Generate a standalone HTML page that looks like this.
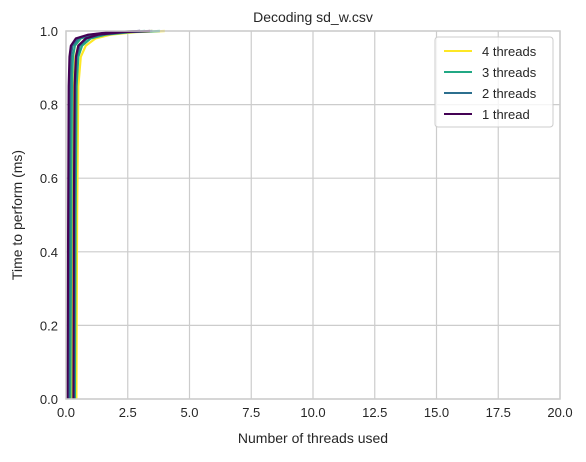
<!DOCTYPE html>
<html><head><meta charset="utf-8"><style>
body{margin:0;background:#fff;font-family:"Liberation Sans","DejaVu Sans",sans-serif;}
svg text{font-family:"Liberation Sans","DejaVu Sans",sans-serif;fill:#262626;}
</style></head><body>
<svg id="chart" width="586" height="457" xmlns="http://www.w3.org/2000/svg">
<rect width="586" height="457" fill="#fff"/>
<g id="grid"></g>
<g id="lines"></g>
<rect x="66" y="31" width="494" height="368" fill="none" stroke="#cccccc" stroke-width="1.5"/>
<g id="ticks"></g>
<text x="313" y="22" text-anchor="middle" font-size="14">Decoding sd_w.csv</text>
<text x="313" y="443" text-anchor="middle" font-size="14">Number of threads used</text>
<text x="22" y="215" text-anchor="middle" font-size="14" transform="rotate(-90 22 215)">Time to perform (ms)</text>
<g>
<rect x="435" y="37" width="118" height="90" rx="3" fill="#fff" fill-opacity="0.8" stroke="#cccccc"/>
<g id="legend"></g>
</g>
</svg>
<script>
const quantiles=[0,0.5,0.85,0.93,0.96,0.98,0.99,0.997,1.0,1.0];
const seriesNames=["4 threads","3 threads","2 threads","1 thread"];
const seriesColors=["#fde725","#21a884","#2c6f8e","#440154"];
// each series: two runs, x values (ms) at the quantiles above
const run4a=[0.25,0.28,0.32,0.38,0.5,0.8,1.3,2.2,3.5,12];
const run4b=[0.42,0.45,0.5,0.6,0.8,1.2,1.8,2.8,4.0,12];
const run3a=[0.18,0.21,0.24,0.28,0.36,0.6,1.1,2.0,3.2,12];
const run3b=[0.36,0.39,0.43,0.5,0.65,1.0,1.6,2.6,3.8,12];
const run2a=[0.12,0.14,0.17,0.2,0.26,0.5,1.0,1.9,3.0,12];
const run2b=[0.32,0.35,0.38,0.43,0.55,0.85,1.4,2.4,3.5,12];
const run1a=[0.06,0.09,0.11,0.14,0.2,0.4,0.9,1.8,3.0,12];
const run1b=[0.3,0.32,0.35,0.4,0.5,0.8,1.3,2.3,3.4,12];
const runs=[[run4a,run4b],[run3a,run3b],[run2a,run2b],[run1a,run1b]];
const xTicks=[0,2.5,5,7.5,10,12.5,15,17.5,20];
const xTickLabels=["0.0","2.5","5.0","7.5","10.0","12.5","15.0","17.5","20.0"];
const yTicks=[0,0.2,0.4,0.6,0.8,1.0];
const yTickLabels=["0.0","0.2","0.4","0.6","0.8","1.0"];
const X=v=>66+v/20*494, Y=v=>399-v*368;
const NS="http://www.w3.org/2000/svg";
const grid=document.getElementById('grid'),ticks=document.getElementById('ticks'),lines=document.getElementById('lines'),leg=document.getElementById('legend');
function mk(t,a,p){const e=document.createElementNS(NS,t);for(const k in a)e.setAttribute(k,a[k]);p.appendChild(e);return e;}
xTicks.forEach((v,i)=>{
 const l=mk('line',{x1:X(v),x2:X(v),y1:31,y2:399,stroke:'#cccccc','stroke-width':1.2},grid);
 
 
 const t=mk('text',{x:X(v),y:417,'text-anchor':'middle','font-size':13},ticks);t.textContent=xTickLabels[i];
 
 
});
yTicks.forEach((v,i)=>{
 const l=mk('line',{x1:66,x2:560,y1:Y(v),y2:Y(v),stroke:'#cccccc','stroke-width':1.2},grid);
 
 
 const t=mk('text',{x:58,y:Y(v)+5,'text-anchor':'end','font-size':13},ticks);t.textContent=yTickLabels[i];
 
 
});
runs.forEach((rs,si)=>{rs.forEach(r=>{
 const n=r.length;
 const d=r.slice(0,n-1).map((x,i)=>(i?'L':'M')+X(x).toFixed(1)+','+Y(quantiles[i]).toFixed(1)).join(' ');
 const p=mk('path',{d:d,fill:'none',stroke:seriesColors[si],'stroke-width':2.2,'stroke-linejoin':'round'},lines);
 
 
 const tail=mk('line',{x1:X(r[n-2]),x2:X(r[n-1]),y1:Y(quantiles[n-2]),y2:Y(quantiles[n-1]),stroke:seriesColors[si],'stroke-width':1,'stroke-opacity':0.35},lines);
 
 
});});
seriesNames.forEach((n,i)=>{
 const y=51+i*21;
 const l=mk('line',{x1:444,x2:472,y1:y,y2:y,stroke:seriesColors[i],'stroke-width':2},leg);
 
 
 const t=mk('text',{x:482,y:y+5,'font-size':13},leg);t.textContent=n;
 
 
});
</script>
</body></html>
